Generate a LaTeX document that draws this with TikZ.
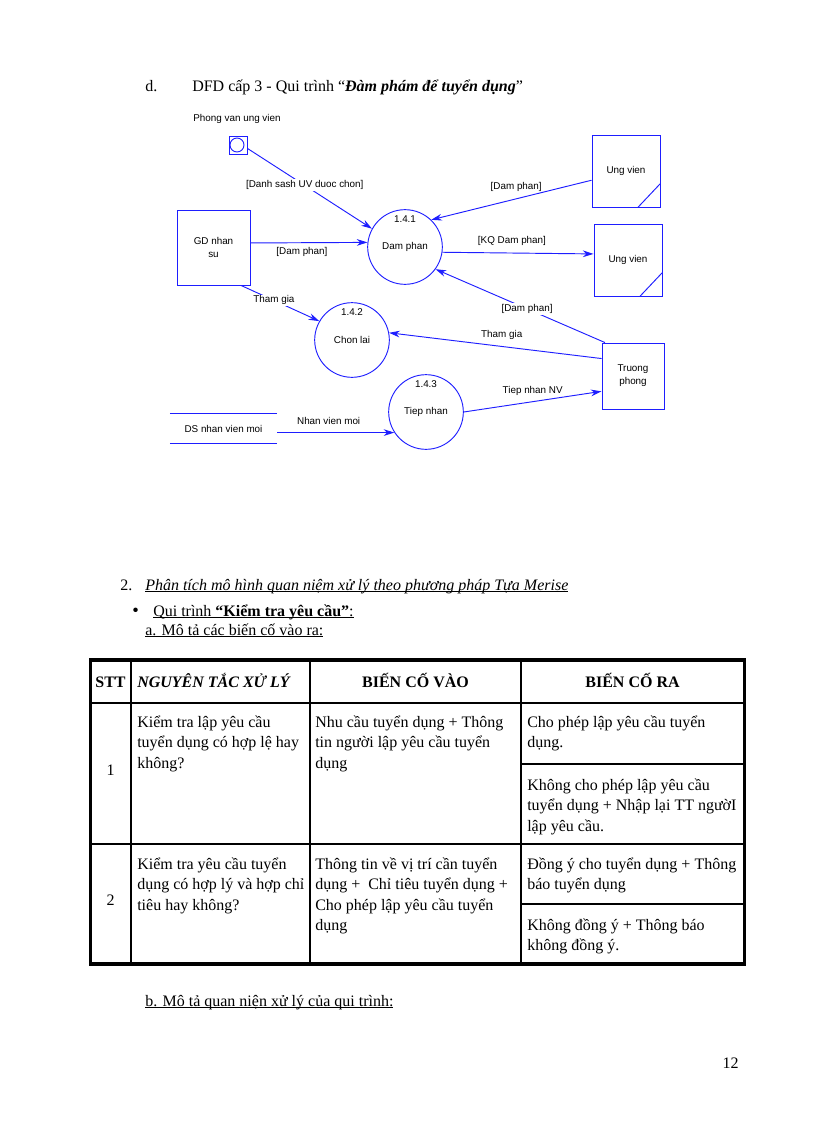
\documentclass[tikz,border=0pt]{standalone}
\usepackage{fontspec}
\setmainfont{Liberation Serif}
\newfontfamily\dfdfont{Liberation Sans}
\usepackage{xcolor}
\usetikzlibrary{arrows.meta, positioning, calc}
\definecolor{dfdblue}{RGB}{30,30,255}
% underline at a fixed depth, through the descenders
\newcommand{\wordul}[1]{\setbox0\hbox{#1}\rlap{\rule[-1.8pt]{\wd0}{0.7pt}}\box0}

\begin{document}
\begin{tikzpicture}[x=0.75pt, y=-0.75pt,
  every node/.style={font=\fontsize{12}{15.4}\selectfont},
  dfd/.style={draw=dfdblue, line width=0.7pt},
  flow/.style={draw=dfdblue, line width=0.7pt, -{Stealth[length=8pt, width=5pt]}},
  lbl/.style={font=\dfdfont\fontsize{7.4}{9.75}\selectfont, inner sep=1pt},
  proc/.style={circle, dfd, minimum size=56pt, inner sep=0pt, lbl},
  entity/.style={rectangle, dfd, align=center, lbl},
  cell/.style={anchor=base west, align=left, inner sep=0pt, text width=165pt,
    execute at begin node={\spaceskip=0.25em\relax}},
  head/.style={anchor=base, inner sep=0pt, font=\fontsize{12}{15.4}\selectfont\bfseries}]
  \path[fill=white, use as bounding box] (0,0) rectangle (816,1123);
  % heading
  \node[anchor=base west, inner sep=0pt] (hd) at (145,92) {d.};
  \node[anchor=base west, inner sep=0pt] (title) at (192,92)
    {DFD cấp 3 - Qui trình “\textbf{\textit{Đàm phám để tuyển dụng}}”};
  % interface Phong van ung vien
  \node[dfd, minimum size=13.5pt, inner sep=0pt] (pv) at (238,145) {};
  \node[dfd, circle, minimum size=10.5pt, inner sep=0pt] (pvc) at (237,145) {};
  \node[lbl] (pvl) at (237,119) {Phong van ung vien};
  % external entities
  \node[entity, minimum width=54.75pt, minimum height=56.25pt] (gd) at (213.5,247.5) {GD nhan\\su};
  \node[entity, minimum width=51pt, minimum height=54pt] (uv1) at (626,171) {Ung vien};
  \node[entity, minimum width=51pt, minimum height=54pt] (uv2) at (628,260) {Ung vien};
  \node[entity, minimum width=46.5pt, minimum height=49.5pt] (tp) at (633,376) {Truong\\phong};
  \draw[dfd] ([yshift=18pt]uv1.south east) -- ([xshift=-17pt]uv1.south east);
  \draw[dfd] ([yshift=18pt]uv2.south east) -- ([xshift=-17pt]uv2.south east);
  % processes
  \node[proc] (p141) at (405,247) {Dam phan};
  \node[lbl] (n141) at ([yshift=-7.5pt]p141.north) {1.4.1};
  \node[proc] (p142) at (352,340) {Chon lai};
  \node[lbl] (n142) at ([yshift=-7.5pt]p142.north) {1.4.2};
  \node[proc] (p143) at (426,412) {Tiep nhan};
  \node[lbl] (n143) at ([yshift=-7.5pt]p143.north) {1.4.3};
  % data store
  \node[lbl, minimum width=80pt, minimum height=21.75pt] (ds) at (223.5,428.5) {DS nhan vien moi};
  \draw[dfd] (ds.north west) -- (ds.north east);
  \draw[dfd] (ds.south west) -- (ds.south east);
  % flows
  \draw[flow] (pv.-20) -- node[lbl, fill=white, pos=0.46] (f1) {[Danh sash UV duoc chon]} (p141.151);
  \draw[flow] (gd.7) -- node[lbl, below=2.5pt, pos=0.44] (f2) {[Dam phan]} (p141.173);
  \draw[flow] (uv1.195) -- node[lbl, above=4pt, pos=0.47] (f3) {[Dam phan]} (p141.46);
  \draw[flow] (p141.-8) -- node[lbl, above=4pt, pos=0.46] (f4) {[KQ Dam phan]} (uv2.170);
  \draw[flow] (tp.130) -- node[lbl, fill=white, pos=0.46] (f5) {[Dam phan]} (p141.-36);
  \draw[flow] (gd.-54) -- node[lbl, fill=white, pos=0.42] (f6) {Tham gia} (p142.150);
  \draw[flow] (tp.151) -- node[lbl, above=4pt, pos=0.47] (f7) {Tham gia} (p142.11);
  \draw[flow] (p143.east) -- node[lbl, above=3pt, pos=0.5] (f8) {Tiep nhan NV} (tp.206);
  \draw[flow] (ds.east |- p143.213) -- node[lbl, above=4.5pt, pos=0.44] (f9) {Nhan vien moi} (p143.213);
  % section 2
  \node[anchor=base west, inner sep=0pt] (s2n) at (120,590) {2.};
  \node[anchor=base west, inner sep=0pt] (s2) at (145,590)
    {\wordul{\textit{Phân tích mô hình quan niệm xử lý theo phương pháp Tựa Merise}}};
  \node[anchor=base west, inner sep=0pt] (bul) at (132,616) {\fontsize{14}{14}\selectfont\textbullet};
  \node[anchor=base west, inner sep=0pt] (qt) at (153,616)
    {\wordul{Qui trình \textbf{“Kiểm tra yêu cầu”}:}};
  \node[anchor=base west, inner sep=0pt] (sa) at (145,635) {\wordul{a. Mô tả các biến cố vào ra:}};
  % table
  \draw[line width=2.6pt] (90.5,660) rectangle (744.5,964);
  \draw[line width=0.8pt] (131,660) -- (131,964) (310,660) -- (310,964) (521,660) -- (521,964);
  \draw[line width=0.8pt] (90.5,703) -- (744.5,703) (90.5,844) -- (744.5,844);
  \draw[line width=0.8pt] (521,764) -- (744.5,764) (521,904) -- (744.5,904);
  \node[head] (hstt) at (110.5,687) {STT};
  \node[head, anchor=base west] (hng) at (137,687) {\textit{NGUYÊN TẮC XỬ LÝ}};
  \node[head] (hvao) at (415.5,687) {BIẾN CỐ VÀO};
  \node[head] (hra) at (632.5,687) {BIẾN CỐ RA};
  \node[anchor=base, inner sep=0pt] (r1) at (110.5,775) {1};
  \node[cell] (r1c2) at (137,727) {Kiểm tra lập yêu cầu\\tuyển dụng có hợp lệ hay\\không?};
  \node[cell] (r1c3) at (315,727) {Nhu cầu tuyển dụng + Thông\\tin người lập yêu cầu tuyển\\dụng};
  \node[cell] (r1c4a) at (527,727) {Cho phép lập yêu cầu tuyển\\dụng.};
  \node[cell] (r1c4b) at (527,790) {Không cho phép lập yêu cầu\\tuyển dụng + Nhập lại TT ngườI\\lập yêu cầu.};
  \node[anchor=base, inner sep=0pt] (r2) at (110.5,905) {2};
  \node[cell] (r2c2) at (137,869) {Kiểm tra yêu cầu tuyển\\dụng có hợp lý và hợp chỉ\\tiêu hay không?};
  \node[cell] (r2c3) at (315,869) {Thông tin về vị trí cần tuyển\\dụng +\ \ Chỉ tiêu tuyển dụng +\\Cho phép lập yêu cầu tuyển\\dụng};
  \node[cell] (r2c4a) at (527,869) {Đồng ý cho tuyển dụng + Thông\\báo tuyển dụng};
  \node[cell] (r2c4b) at (527,930) {Không đồng ý + Thông báo\\không đồng ý.};
  % section b and page number
  \node[anchor=base west, inner sep=0pt] (sb) at (145,1006) {\wordul{b. Mô tả quan niện xử lý của qui trình:}};
  \node[anchor=base east, inner sep=0pt] (pg) at (739,1068) {12};
\end{tikzpicture}
\end{document}
